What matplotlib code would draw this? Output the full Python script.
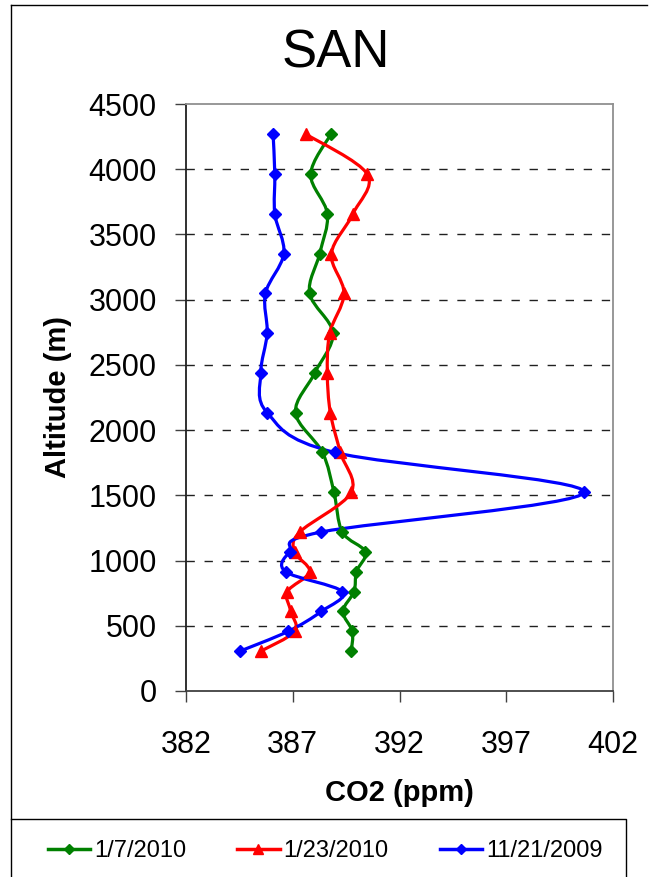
import numpy as np
import matplotlib
matplotlib.use("Agg")
from matplotlib import pyplot as plt
from matplotlib.path import Path
from matplotlib.patches import PathPatch
from matplotlib.lines import Line2D

plt.rcParams["font.family"] = ["Liberation Sans", "DejaVu Sans"]

# Altitudes (m), 500 ft steps from 1000 ft to 14000 ft (no 4500 ft level)
altitude = [305, 457, 610, 762, 914, 1067, 1219, 1524, 1829, 2134,
            2438, 2743, 3048, 3353, 3658, 3962, 4267]

co2_jan07 = [389.74, 389.79, 389.35, 389.87, 389.98, 390.40, 389.32, 388.93,
             388.39, 387.13, 388.03, 388.88, 387.79, 388.26, 388.62, 387.84, 388.78]
co2_jan23 = [385.50, 387.09, 386.91, 386.75, 387.79, 387.09, 387.33, 389.74,
             389.23, 388.76, 388.62, 388.73, 389.40, 388.81, 389.82, 390.49, 387.64]
co2_nov21 = [384.52, 386.78, 388.34, 389.32, 386.67, 386.86, 388.34, 400.64,
             388.96, 385.80, 385.50, 385.80, 385.72, 386.58, 386.16, 386.16, 386.08]

series = [
    ("1/7/2010", co2_jan07, "#008000", "D", 6),
    ("1/23/2010", co2_jan23, "#ff0000", "^", 8),
    ("11/21/2009", co2_nov21, "#0000ff", "D", 6),
]

x_ticks = [382, 387, 392, 397, 402]
y_ticks = [0, 500, 1000, 1500, 2000, 2500, 3000, 3500, 4000, 4500]


def smooth_path(xs, ys):
    # Excel-style smoothed line: Catmull-Rom turned into cubic Bezier pieces
    pts = np.column_stack([xs, ys]).astype(float)
    p = np.vstack([pts[0], pts, pts[-1]])
    verts = [pts[0]]
    codes = [Path.MOVETO]
    for i in range(1, len(p) - 2):
        c1 = p[i] + (p[i + 1] - p[i - 1]) / 6.0
        c2 = p[i + 1] - (p[i + 2] - p[i]) / 6.0
        verts += [c1, c2, p[i + 1]]
        codes += [Path.CURVE4] * 3
    return Path(verts, codes)


W, H = 649, 877
fig = plt.figure(figsize=(W / 100, H / 100), dpi=100)


def fig_line(xs, ys):
    # pixel coords from top-left -> figure fraction
    fig.lines.append(Line2D([x / W for x in xs], [1 - y / H for y in ys],
                            transform=fig.transFigure, color="black", linewidth=1.0))


# chart frame (cut off at the right and bottom) and legend box
fig_line([10.5, 10.5], [H, 5])
fig_line([10.5, W - 2], [5, 5])
fig_line([10.5, 626, 626], [819, 819, H])

ax = fig.add_axes([186 / W, 1 - 691 / H, (613 - 186) / W, (691 - 104) / H])

handles = []
for label, vals, color, marker, ms in series:
    patch = PathPatch(smooth_path(vals, altitude), facecolor="none",
                      edgecolor=color, linewidth=2.3, capstyle="round",
                      joinstyle="round")
    ax.add_patch(patch)
    ax.plot(vals, altitude, linestyle="none", marker=marker, markersize=ms,
            color=color, markeredgecolor=color)
    handles.append(Line2D([], [], color=color, linewidth=2.5, marker=marker,
                          markersize=ms - 1, label=label))

ax.set_xlim(382, 402)
ax.set_ylim(0, 4500)
ax.set_xticks(x_ticks)
ax.set_yticks(y_ticks)
ax.tick_params(axis="both", labelsize=22, direction="out", length=8, width=1,
               colors="#404040", labelcolor="black")
ax.tick_params(axis="x", pad=20)
ax.tick_params(axis="y", pad=13)

for y in y_ticks[1:-1]:
    ax.axhline(y, color="#202020", linewidth=1.0, linestyle=(0, (6, 7)), zorder=0)

ax.spines["left"].set_color("#202020")
ax.spines["bottom"].set_color("#404040")
ax.spines["top"].set_color("#909090")
ax.spines["right"].set_color("#909090")
for s in ax.spines.values():
    s.set_linewidth(1.3)

ax.set_xlabel("CO2 (ppm)", fontsize=21, fontweight="bold", labelpad=14)
ax.set_ylabel("Altitude (m)", fontsize=21, fontweight="bold", labelpad=12)

fig.text(336 / W, 1 - 53 / H, "SAN", fontsize=38, ha="center", va="center")

fig.legend(handles=handles, loc="center left", bbox_to_anchor=(36 / W, 1 - 851 / H),
           ncol=3, frameon=False, borderpad=0, handlelength=1.8,
           handletextpad=0.17, columnspacing=2.15, fontsize=17)

fig.savefig("out.png", dpi=100)
